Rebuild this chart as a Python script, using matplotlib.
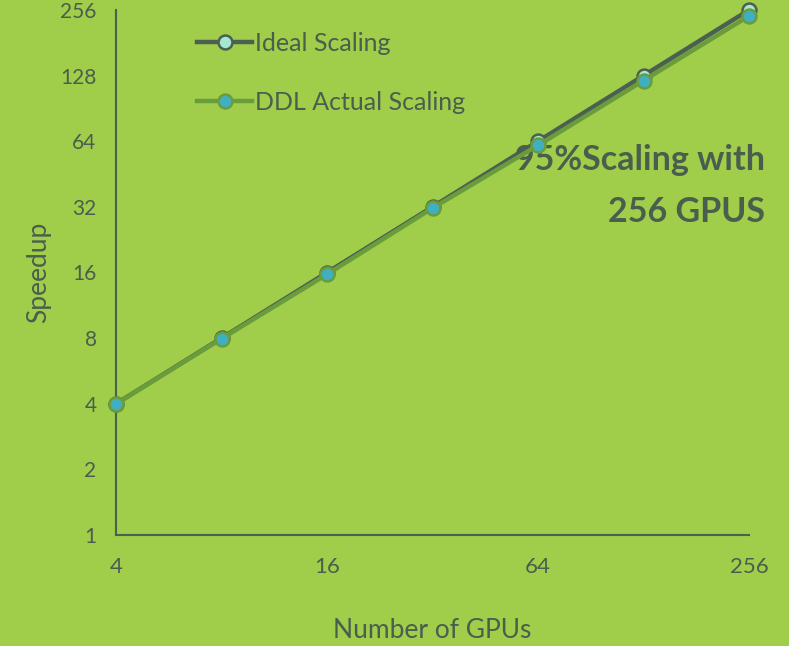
import matplotlib
matplotlib.use("Agg")
import matplotlib.pyplot as plt
from matplotlib.ticker import FixedLocator, FixedFormatter, NullLocator

# Data
gpus = [4, 8, 16, 32, 64, 128, 256]
ideal_speedup = [4, 8, 16, 32, 64, 128, 256]
ddl_speedup = [4, 7.95, 15.7, 31.6, 61.3, 121.5, 240.5]

x_ticks = [4, 16, 64, 256]
x_tick_labels = ["4", "16", "64", "256"]
y_ticks = [1, 2, 4, 8, 16, 32, 64, 128, 256]
y_tick_labels = ["1", "2", "4", "8", "16", "32", "64", "128", "256"]

bg = "#A0CD4A"
txt = "#4A5E4E"
ideal_line = "#4B5F52"
ideal_face = "#A5E8D0"
ddl_line = "#6A9C3C"
ddl_face = "#3FAFC2"

plt.rcParams["font.family"] = ["Lato", "DejaVu Sans"]

fig = plt.figure(figsize=(7.89, 6.46), dpi=100, facecolor=bg)
ax = fig.add_axes([116 / 789, (646 - 535) / 646, (749 - 116) / 789, (535 - 10) / 646])
ax.set_facecolor(bg)

ax.set_xscale("log", base=2)
ax.set_yscale("log", base=2)
ax.set_xlim(4, 256)
ax.set_ylim(1, 256)

ax.plot(gpus, ideal_speedup, color=ideal_line, lw=3.2, marker="o", ms=10,
        mfc=ideal_face, mec=ideal_line, mew=1.8, clip_on=False, zorder=3,
        label="Ideal Scaling")
ax.plot(gpus, ddl_speedup, color=ddl_line, lw=3.2, marker="o", ms=10,
        mfc=ddl_face, mec=ddl_line, mew=1.8, clip_on=False, zorder=4,
        label="DDL Actual Scaling")

ax.xaxis.set_major_locator(FixedLocator(x_ticks))
ax.xaxis.set_major_formatter(FixedFormatter(x_tick_labels))
ax.yaxis.set_major_locator(FixedLocator(y_ticks))
ax.yaxis.set_major_formatter(FixedFormatter(y_tick_labels))
ax.xaxis.set_minor_locator(NullLocator())
ax.yaxis.set_minor_locator(NullLocator())
ax.tick_params(axis="both", length=0, colors=txt)
ax.tick_params(axis="x", pad=16, labelsize=16)
ax.tick_params(axis="y", pad=14, labelsize=15)

for s in ("top", "right"):
    ax.spines[s].set_visible(False)
for s in ("left", "bottom"):
    ax.spines[s].set_color(ideal_line)
    ax.spines[s].set_linewidth(1.5)

ax.set_xlabel("Number of GPUs", color=txt, fontsize=19)
ax.set_ylabel("Speedup", color=txt, fontsize=19)
ax.xaxis.set_label_coords(0.5, -0.158)
ax.yaxis.set_label_coords(-0.103, 0.5)

leg = ax.legend(loc="upper left", bbox_to_anchor=(0.093, 1.001), frameon=False,
                fontsize=18, labelcolor=txt, handlelength=2.2, handletextpad=0.12,
                labelspacing=1.45)

ax.text(1.025, 0.665, "95%Scaling with\n256 GPUS", transform=ax.transAxes,
        fontsize=24.5, fontweight="bold", color=txt, ha="right", va="center",
        linespacing=1.78)

fig.savefig("out.png", dpi=100, facecolor=bg)
